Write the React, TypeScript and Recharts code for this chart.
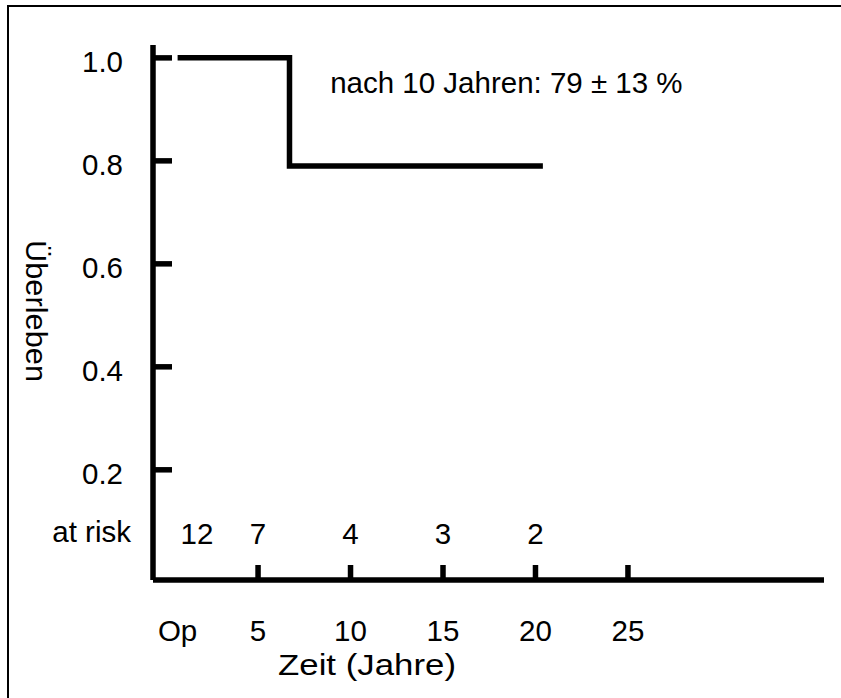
import { LineChart, Line, XAxis, YAxis, Label, ReferenceDot } from 'recharts';

// Kaplan-Meier: Überleben nach Operation
const survivalTimes = [0.65, 6.7, 20.4];
const survivalValues = [1.0, 0.79, 0.79];

// Patienten unter Risiko
const atRiskTimes = [1.7, 5, 10, 15, 20];
const atRiskCounts = [12, 7, 4, 3, 2];

const xTicks = [0.65, 5, 10, 15, 20, 25];
const xTickLabels = ['Op', '5', '10', '15', '20', '25'];
const yTicks = [0.2, 0.4, 0.6, 0.8, 1.0];
const yTickLabels = ['0.2', '0.4', '0.6', '0.8', '1.0'];

const annotation = 'nach 10 Jahren: 79 ± 13 %';
const annotationAt = { t: 8.9, s: 0.953 };

const AT_RISK_ROW = 0.08;
const FONT = '"Liberation Sans", Arial, sans-serif';
const FS = 29.5;
const STROKE = 5.5;

const data = survivalTimes.map((t, i) => ({ t, s: survivalValues[i] }));

function XTick({ x, y, payload }: any) {
  const i = xTicks.indexOf(payload.value);
  const isOp = i === 0;
  return (
    <g>
      {!isOp && <line x1={x} x2={x} y1={y} y2={y - 15} stroke="#000" strokeWidth={STROKE} />}
      <text x={x} y={y + 50} textAnchor="middle" dominantBaseline="central" fontSize={FS} fontFamily={FONT} fill="#000">
        {xTickLabels[i]}
      </text>
    </g>
  );
}

function YTick({ x, y, payload }: any) {
  if (payload.value === AT_RISK_ROW) {
    return (
      <text x={x - 22} y={y} textAnchor="end" dominantBaseline="central" fontSize={FS} fontFamily={FONT} fill="#000">
        at risk
      </text>
    );
  }
  const i = yTicks.indexOf(payload.value);
  return (
    <g>
      <line x1={x} x2={x + 19} y1={y} y2={y} stroke="#000" strokeWidth={STROKE} />
      <text x={x - 30} y={y + 4} textAnchor="end" dominantBaseline="central" fontSize={FS} fontFamily={FONT} fill="#000">
        {yTickLabels[i]}
      </text>
    </g>
  );
}

export default function App() {
  return (
    <div style={{ position: 'absolute', left: 0, top: 0, width: 841, height: 698, overflow: 'hidden', background: '#fff' }}>
      <div
        style={{
          position: 'absolute',
          left: 7,
          top: 5,
          width: 900,
          height: 800,
          borderTop: '2px solid #000',
          borderLeft: '2px solid #000',
        }}
      />
      <div style={{ position: 'absolute', left: 0, top: 0 }}>
        <LineChart width={841} height={698} data={data} margin={{ top: 45, right: 17, bottom: 88, left: 93 }}>
          <XAxis
            dataKey="t"
            type="number"
            domain={[-0.68, 35.6]}
            allowDataOverflow
            ticks={xTicks}
            interval={0}
            height={30}
            tickSize={0}
            tickMargin={0}
            tickLine={false}
            axisLine={{ stroke: '#000', strokeWidth: STROKE }}
            tick={<XTick />}
          >
            <Label
              content={({ viewBox }: any) => (
                <text
                  x={viewBox.x + 214}
                  y={viewBox.y + 84}
                  textAnchor="middle"
                  dominantBaseline="central"
                  fontSize={FS}
                  fontFamily={FONT}
                  fill="#000"
                  textLength={178}
                  lengthAdjust="spacingAndGlyphs"
                >
                  Zeit (Jahre)
                </text>
              )}
            />
          </XAxis>
          <YAxis
            type="number"
            domain={[-0.014, 1.025]}
            allowDataOverflow
            ticks={[AT_RISK_ROW, ...yTicks]}
            interval={0}
            width={60}
            tickSize={0}
            tickMargin={0}
            tickLine={false}
            axisLine={{ stroke: '#000', strokeWidth: STROKE }}
            tick={<YTick />}
          >
            <Label
              content={({ viewBox }: any) => {
                const cx = viewBox.x - 57;
                const cy = viewBox.y + 266;
                return (
                  <text
                    x={cx}
                    y={cy}
                    transform={`rotate(90 ${cx} ${cy})`}
                    textAnchor="middle"
                    dominantBaseline="central"
                    fontSize={FS}
                    fontFamily={FONT}
                    fill="#000"
                    textLength={142}
                    lengthAdjust="spacingAndGlyphs"
                  >
                    Überleben
                  </text>
                );
              }}
            />
          </YAxis>
          <Line
            dataKey="s"
            type="stepAfter"
            stroke="#000"
            strokeWidth={STROKE}
            strokeLinejoin="miter"
            strokeLinecap="butt"
            dot={false}
            activeDot={false}
            isAnimationActive={false}
          />
          {atRiskTimes.map((t, i) => (
            <ReferenceDot
              key={`risk-${i}`}
              x={t}
              y={AT_RISK_ROW}
              r={0}
              fill="none"
              stroke="none"
              ifOverflow="visible"
              label={({ viewBox }: any) => (
                <text x={viewBox.x} y={viewBox.y + 2} textAnchor="middle" dominantBaseline="central" fontSize={FS} fontFamily={FONT} fill="#000">
                  {atRiskCounts[i]}
                </text>
              )}
            />
          ))}
          <ReferenceDot
            x={annotationAt.t}
            y={annotationAt.s}
            r={0}
            fill="none"
            stroke="none"
            ifOverflow="visible"
            label={({ viewBox }: any) => (
              <text x={viewBox.x} y={viewBox.y} textAnchor="start" dominantBaseline="central" fontSize={FS} fontFamily={FONT} fill="#000">
                {annotation}
              </text>
            )}
          />
        </LineChart>
      </div>
    </div>
  );
}
